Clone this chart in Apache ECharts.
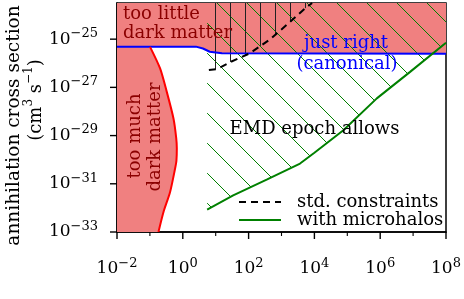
<!DOCTYPE html>
<html><head><meta charset="utf-8">
<script src="https://cdn.jsdelivr.net/npm/echarts@6/dist/echarts.min.js"></script>
<style>html,body{margin:0;padding:0;background:#fff}#c{width:464px;height:299px}</style>
</head><body><div id="c"></div>
<script>
// axis extents (log10 exponents)
const X_MIN_EXP = -2, X_MAX_EXP = 8;
const Y_MIN_EXP = -33, Y_MAX_EXP = -23.5;
const X_TICK_EXPS = [-2, 0, 2, 4, 6, 8];
const X_MINOR_EXPS = [-1, 1, 3, 5, 7];
const Y_TICK_EXPS = [-33, -31, -29, -27, -25];

// "just right (canonical)" boundary: mass (GeV), cross section (cm^3 s^-1)
const canonMass  = [1e-2, 2.5, 4.1, 6.6, 15.5, 1e8];
const canonSigma = [4.9e-26, 4.9e-26, 4.1e-26, 3.0e-26, 2.6e-26, 2.5e-26];

// "too much dark matter" boundary (red)
const tooMuchMass  = [0.101, 0.204, 0.326, 0.521, 0.63, 0.658, 0.64, 0.583, 0.411, 0.259, 0.182];
const tooMuchSigma = [4.8e-26, 6.1e-27, 6.5e-28, 5.1e-29, 8e-30, 2.9e-30, 9e-31, 4.3e-31, 4.6e-32, 6.8e-33, 1e-33];

// EMD epoch with microhalos (green)
const microMass  = [5.5, 34, 354, 3660, 1e4, 7.6e4, 7.9e5, 8.1e6, 1e8];
const microSigma = [8.5e-33, 3.3e-32, 1.5e-31, 6.9e-31, 1.95e-30, 1.66e-29, 3.5e-28, 4.4e-27, 7.1e-26];

// EMD standard constraints (dashed)
const stdMass  = [6.2, 10.9, 27, 110, 447, 1820, 5250, 8510];
const stdSigma = [5.2e-27, 5.7e-27, 1.1e-26, 2.6e-26, 9.8e-26, 5.2e-25, 1.9e-24, 3.16e-24];

const F = 'DejaVu Serif';
const L = Math.log10;
const toPts = (m, s) => m.map((v, i) => [L(v), L(s[i])]);
const canonPts = toPts(canonMass, canonSigma);
const tooMuchPts = toPts(tooMuchMass, tooMuchSigma);
const microPts = toPts(microMass, microSigma);
const stdPts = toPts(stdMass, stdSigma);

function hatch(kind, color, size, offset, width) {
  const c = document.createElement('canvas');
  c.width = size; c.height = size;
  const ctx = c.getContext('2d');
  ctx.strokeStyle = color; ctx.lineWidth = width;
  ctx.beginPath();
  if (kind === 'v') {
    ctx.moveTo(offset + 0.5, 0); ctx.lineTo(offset + 0.5, size);
  } else {
    for (let k = -1; k <= 1; k++) {
      ctx.moveTo(k * size + offset, 0); ctx.lineTo(k * size + offset + size, size);
    }
  }
  ctx.stroke();
  return { image: c, repeat: 'repeat' };
}
const greenHatch = hatch('d', '#008000', 30, 4, 1);
const vertHatch = hatch('v', '#222', 15, 5, 1);

function poly(pts, fill, z) {
  return {
    type: 'custom', silent: true, z: z, data: [[1, -30]],
    renderItem: function (params, api) {
      return { type: 'polygon', shape: { points: pts.map(p => api.coord(p)) }, style: { fill: fill, stroke: null } };
    }
  };
}

// outward axis ticks placed through the axes' own scales
const tickSeries = {
  type: 'custom', silent: true, z: 12, clip: false, data: [[1, -30]],
  renderItem: function (params, api) {
    const els = [];
    const seg = (x1, y1, x2, y2, w) => els.push({ type: 'line', shape: { x1, y1, x2, y2 }, style: { stroke: '#000', lineWidth: w } });
    X_TICK_EXPS.forEach(v => { const p = api.coord([v, Y_MIN_EXP]); seg(p[0], p[1], p[0], p[1] + 7, 1.4); });
    X_MINOR_EXPS.forEach(v => { const p = api.coord([v, Y_MIN_EXP]); seg(p[0], p[1], p[0], p[1] + 4, 1.1); });
    Y_TICK_EXPS.forEach(v => { const p = api.coord([X_MIN_EXP, v]); seg(p[0] - 7, p[1], p[0], p[1], 1.4); });
    return { type: 'group', children: els };
  }
};

const tooLittlePoly = canonPts.concat([[X_MAX_EXP, Y_MAX_EXP], [X_MIN_EXP, Y_MAX_EXP]]);
const tooMuchPoly = [[X_MIN_EXP, canonPts[0][1]]].concat(tooMuchPts, [[X_MIN_EXP, Y_MIN_EXP]]);
const microPoly = microPts.concat([[X_MAX_EXP, Y_MAX_EXP], [microPts[0][0], Y_MAX_EXP]]);
const stdPoly = stdPts.concat([[stdPts[0][0], Y_MAX_EXP]]);

const expLabel = v => '{b|10}{s|' + (v < 0 ? '\u2212' + (-v) : v) + '}';
const richLab = {
  b: { fontFamily: F, fontSize: 17, color: '#000', lineHeight: 24 },
  s: { fontFamily: F, fontSize: 13, color: '#000', lineHeight: 12, verticalAlign: 'top' }
};

const chart = echarts.init(document.getElementById('c'), null, { renderer: 'canvas' });
chart.setOption({
  animation: false,
  backgroundColor: '#fff',
  grid: { left: 117, right: 18, top: 3, bottom: 67, show: true, borderColor: '#000', borderWidth: 1.5, backgroundColor: 'transparent' },
  xAxis: {
    type: 'value', min: X_MIN_EXP, max: X_MAX_EXP, interval: 2,
    axisLine: { show: true, onZero: false, lineStyle: { color: '#000', width: 1.5 } },
    axisTick: { show: false },
    minorTick: { show: false },
    splitLine: { show: false },
    axisLabel: { margin: 25, formatter: expLabel, rich: richLab }
  },
  yAxis: {
    type: 'value', min: Y_MIN_EXP, max: Y_MAX_EXP, interval: 2,
    axisLine: { show: true, onZero: false, lineStyle: { color: '#000', width: 1.5 } },
    axisTick: { show: false },
    splitLine: { show: false },
    axisLabel: { margin: 19, customValues: Y_TICK_EXPS, formatter: v => Number.isInteger(v) ? expLabel(v) : '', rich: richLab }
  },
  legend: {
    data: ['std. constraints', 'with microhalos'], orient: 'vertical', left: 238, top: 193, padding: 0,
    itemWidth: 42, itemHeight: 14, itemGap: 0, selectedMode: false,
    itemStyle: { opacity: 0 },
    textStyle: { fontFamily: F, fontSize: 18, color: '#000', lineHeight: 18, padding: [0, 0, 0, 11] }
  },
  series: [
    poly(tooLittlePoly, '#f08080', 1),
    poly(tooMuchPoly, '#f08080', 1),
    poly(microPoly, greenHatch, 2),
    poly(stdPoly, vertHatch, 2),
    { type: 'line', name: 'canonical', data: canonPts, symbol: 'none', z: 5, lineStyle: { color: '#0000ff', width: 2 } },
    { type: 'line', name: 'too much', data: tooMuchPts, symbol: 'none', z: 5, smooth: 0.25, lineStyle: { color: '#ff0000', width: 2 } },
    { type: 'line', name: 'with microhalos', data: microPts, symbol: 'none', z: 5, color: '#008000', lineStyle: { color: '#008000', width: 2 } },
    { type: 'line', name: 'std. constraints', data: stdPts, symbol: 'none', z: 5, color: '#000', lineStyle: { color: '#000', width: 2, type: [7, 5] } },
    tickSeries
  ],
  graphic: [
    { type: 'text', x: 123, y: 14, z: 20, style: { text: 'too little', font: '18px "DejaVu Serif"', fill: '#8b0000', verticalAlign: 'middle' } },
    { type: 'text', x: 123, y: 33, z: 20, style: { text: 'dark matter', font: '18px "DejaVu Serif"', fill: '#8b0000', verticalAlign: 'middle' } },
    { type: 'text', x: 346, y: 43, z: 20, style: { text: 'just right', font: '18px "DejaVu Serif"', fill: '#0000ff', align: 'center', verticalAlign: 'middle' } },
    { type: 'text', x: 347, y: 64, z: 20, style: { text: '(canonical)', font: '18px "DejaVu Serif"', fill: '#0000ff', align: 'center', verticalAlign: 'middle' } },
    { type: 'text', x: 314.5, y: 129, z: 20, style: { text: 'EMD epoch allows', font: '18px "DejaVu Serif"', fill: '#000', align: 'center', verticalAlign: 'middle' } },
    { type: 'text', x: 135, y: 136, rotation: Math.PI / 2, z: 20, style: { text: 'too much', font: '18px "DejaVu Serif"', fill: '#8b0000', align: 'center', verticalAlign: 'middle' } },
    { type: 'text', x: 155, y: 137, rotation: Math.PI / 2, z: 20, style: { text: 'dark matter', font: '18px "DejaVu Serif"', fill: '#8b0000', align: 'center', verticalAlign: 'middle' } },
    { type: 'text', x: 14, y: 125.5, rotation: Math.PI / 2, z: 20, style: { text: 'annihilation cross section', font: '18.5px "DejaVu Serif"', fill: '#000', align: 'center', verticalAlign: 'middle' } },
    { type: 'text', x: 36, y: 100, rotation: Math.PI / 2, z: 20, style: {
      text: '{b|(cm}{s|3}{b| s}{s|\u22121}{b|)}', align: 'center', verticalAlign: 'middle',
      rich: { b: { fontFamily: F, fontSize: 18, fill: '#000', lineHeight: 26 }, s: { fontFamily: F, fontSize: 12, fill: '#000', lineHeight: 12, verticalAlign: 'top' } } } }
  ]
});
</script></body></html>
